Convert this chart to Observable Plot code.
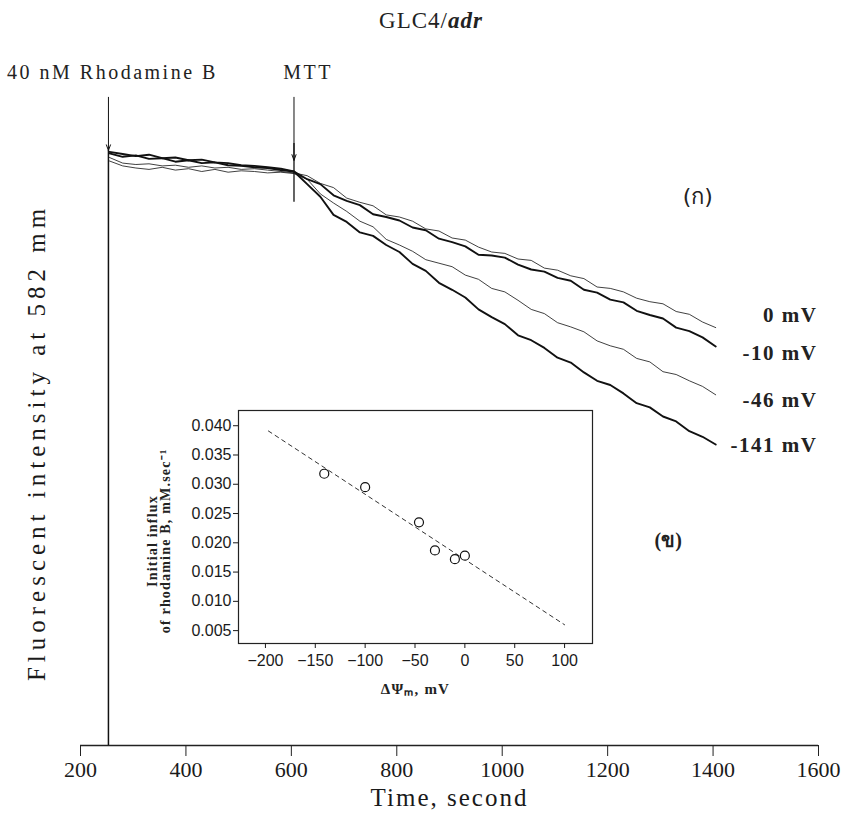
<!DOCTYPE html>
<html><head><meta charset="utf-8">
<script src="https://cdn.jsdelivr.net/npm/d3@7"></script>
<script src="https://cdn.jsdelivr.net/npm/@observablehq/plot@0.6"></script>
<style>
body{margin:0;background:#fff;}
#wrap{position:relative;width:842px;height:822px;overflow:hidden;}
#title{position:absolute;top:8px;left:0;width:862px;text-align:center;font-family:"Liberation Serif",serif;font-size:23px;color:#222;letter-spacing:1px;}
#inset{position:absolute;left:130px;top:400px;}
</style></head><body>
<div id="wrap"><div id="main"></div><div id="inset"></div><div id="title">GLC4/<b><i>adr</i></b></div></div>
<script>
// ---- main chart data ----
const xTicks = [200, 400, 600, 800, 1000, 1200, 1400, 1600];
const rhodT = 253;      // Rhodamine B addition (s)
const mttT = 605;       // MTT addition (s)
const eventLabels = ["40 nM Rhodamine B", "MTT"];
const eventTimes = [253, 605];
const eventHead = [85.0, 83.6];
const plateauT = [255, 280, 305, 330, 355, 380, 405, 430, 455, 480, 505, 530, 555, 580, 605];
const declineT = [630, 655, 680, 705, 730, 755, 780, 805, 830, 855, 880, 905, 930, 955, 980, 1005, 1030, 1055, 1080, 1105, 1130, 1155, 1180, 1205, 1230, 1255, 1280, 1305, 1330, 1355, 1380, 1405];
const seriesNames = ["0 mV", "-10 mV", "-46 mV", "-141 mV"];
const plateau0   = [84.0, 83.2, 83.0, 83.1, 82.8, 82.9, 82.6, 82.8, 82.5, 82.6, 82.3, 82.4, 82.2, 82.0, 81.8];
const plateau10  = [84.6, 84.1, 84.3, 83.8, 83.9, 83.4, 83.6, 83.2, 83.3, 82.9, 82.8, 82.6, 82.5, 82.2, 82.0];
const plateau46  = [83.5, 82.8, 82.5, 82.3, 82.6, 82.2, 82.4, 82.0, 82.3, 81.9, 82.1, 82.0, 81.8, 81.9, 81.7];
const plateau141 = [84.8, 84.5, 84.2, 84.4, 83.9, 84.0, 83.6, 83.7, 83.3, 83.2, 82.9, 82.8, 82.6, 82.4, 82.0];
const decline0   = [81.4, 80.3, 79.7, 78.2, 77.6, 77.1, 75.8, 75.5, 74.9, 73.8, 73.5, 72.5, 72.2, 71.2, 70.5, 70.3, 69.5, 69.3, 68.2, 67.9, 67.1, 66.7, 65.5, 65.3, 64.8, 63.9, 63.4, 63.1, 62.0, 61.6, 60.5, 59.7];
const decline10  = [80.9, 80.2, 78.6, 77.8, 77.2, 75.9, 75.5, 75.0, 74.0, 73.6, 72.4, 71.9, 71.3, 70.1, 70.0, 69.7, 68.7, 68.0, 67.7, 66.8, 66.4, 65.1, 64.7, 63.7, 63.3, 62.1, 61.5, 61.0, 59.7, 59.2, 58.3, 57.0];
const decline46  = [80.9, 78.8, 77.5, 76.3, 74.9, 74.1, 72.3, 71.5, 70.6, 69.4, 68.9, 68.4, 67.2, 66.6, 65.3, 64.8, 63.6, 62.3, 61.7, 60.4, 59.8, 59.1, 57.8, 57.1, 56.6, 55.3, 54.8, 53.4, 53.0, 52.1, 51.3, 50.1];
const decline141 = [80.2, 78.4, 75.8, 74.8, 73.3, 72.8, 71.5, 70.5, 68.8, 67.8, 66.1, 65.1, 64.0, 62.3, 61.2, 60.2, 58.6, 57.9, 56.8, 55.4, 54.7, 53.3, 52.1, 51.5, 50.3, 48.9, 48.3, 47.0, 46.3, 44.9, 44.1, 43.0];
const seriesLabelY = [61.4, 56.0, 49.3, 42.9];
const seriesWidth = [1.0, 1.9, 1.0, 1.9];

// ---- inset data ----
const insetXTicks = [-200, -150, -100, -50, 0, 50, 100];
const insetYTicks = [0.005, 0.010, 0.015, 0.020, 0.025, 0.030, 0.035, 0.040];
const potential = [-141, -100, -46, -30, -10, 0];
const influx = [0.0318, 0.0295, 0.0235, 0.0187, 0.0172, 0.0178];
const fitX = [-197, 100];
const fitY = [0.0391, 0.0060];

// build rows
const plateaus = [plateau0, plateau10, plateau46, plateau141];
const declines = [decline0, decline10, decline46, decline141];
const traces = seriesNames.map((s, i) => [
  ...plateauT.map((t, j) => ({s, t, v: plateaus[i][j]})),
  ...declineT.map((t, j) => ({s, t, v: declines[i][j]}))
]);
const labelRows = seriesNames.map((s, i) => ({s, y: seriesLabelY[i]}));
const eventRows = eventLabels.map((l, i) => ({l, t: eventTimes[i], head: eventHead[i]}));

const serif = "Liberation Serif, Times New Roman, serif";
const main = Plot.plot({
  width: 842, height: 822,
  marginLeft: 80, marginRight: 24, marginTop: 45, marginBottom: 77,
  x: {domain: [200, 1600]},
  y: {domain: [0, 100], axis: null},
  style: {fontFamily: serif, color: "#1a1a1a", background: "white", overflow: "visible"},
  marks: [
    Plot.ruleY([0], {x1: 200, x2: 1600, stroke: "#222", strokeWidth: 1.3}),
    Plot.axisX({ticks: xTicks, tickSize: 11, tickPadding: 5, fontSize: 22, label: null, tickFormat: d => String(d), stroke: "#222"}),
    Plot.text(["Time, second"], {frameAnchor: "bottom", dy: 60, fontSize: 25, fill: "#1a1a1a"}),
    Plot.text(["Fluorescent intensity at 582 mm"], {frameAnchor: "left", textAnchor: "middle", dx: -44, dy: 47, rotate: -90, fontSize: 25, fill: "#1a1a1a"}),
    Plot.ruleX([rhodT], {y1: 0, y2: 85, stroke: "#111", strokeWidth: 1.5}),
    Plot.ruleX([mttT], {y1: 77.6, y2: 86, stroke: "#111", strokeWidth: 1.3}),
    Plot.arrow(eventRows, {x1: "t", x2: "t", y1: 92.6, y2: "head", stroke: "#111", strokeWidth: 1, headLength: 9, headAngle: 40}),
    Plot.text(eventRows.slice(0, 1), {x: "t", y: 96.2, text: "l", fontSize: 20, fill: "#222", dx: 4}),
    Plot.text(eventRows.slice(1), {x: "t", y: 96.2, text: "l", fontSize: 20, fill: "#222", dx: 14}),
    ...traces.map((rows, i) => Plot.line(rows, {x: "t", y: "v", stroke: "#111", strokeWidth: seriesWidth[i], strokeOpacity: i % 2 === 0 ? 0.8 : 1, strokeLinejoin: "round"})),
    Plot.text(labelRows, {x: 1598, y: "y", text: "s", textAnchor: "end", fontSize: 21, fontWeight: "bold", fill: "#222"}),
    Plot.text(["(ก)"], {x: 1371, y: 78.3, fontSize: 22, fontFamily: "DejaVu Sans, Noto Sans, sans-serif", fill: "#222"}),
    Plot.text(["(ข)"], {x: 1315, y: 29.3, fontSize: 20, fontWeight: "bold", fill: "#222"})
  ]
});
document.getElementById("main").appendChild(main);
d3.select(main).selectAll("text").filter(function(){ return this.textContent === "40 nM Rhodamine B" || this.textContent === "MTT"; }).style("letter-spacing", "2.5px");
d3.select(main).selectAll("text").filter(function(){ return /Fluorescent/.test(this.textContent); }).style("letter-spacing", "5px");
d3.select(main).selectAll("text").filter(function(){ return /Time,/.test(this.textContent); }).style("letter-spacing", "2px");
d3.select(main).selectAll("text").filter(function(){ return / mV$/.test(this.textContent); }).style("letter-spacing", "1.5px");

const inset = Plot.plot({
  width: 480, height: 310,
  marginLeft: 108, marginTop: 10, marginRight: 18, marginBottom: 67,
  x: {domain: [-227, 128]},
  y: {domain: [0.0028, 0.0426]},
  style: {fontFamily: "Liberation Sans, Arial, sans-serif", fontSize: 16, color: "#1a1a1a", background: "transparent", overflow: "visible"},
  marks: [
    Plot.frame({stroke: "#222", strokeWidth: 1.2}),
    Plot.axisX({ticks: insetXTicks, tickSize: 5, tickPadding: 6, fontSize: 16, label: null}),
    Plot.axisY({ticks: insetYTicks, tickSize: 5, tickPadding: 2, fontSize: 16, tickFormat: ".3f", label: null}),
    Plot.line(fitX.map((x, i) => ({x, y: fitY[i]})), {x: "x", y: "y", stroke: "#333", strokeWidth: 1, strokeDasharray: "4,4"}),
    Plot.dot(potential.map((x, i) => ({x, y: influx[i]})), {x: "x", y: "y", r: 4.5, stroke: "#111", strokeWidth: 1.2, fill: "white"}),
    Plot.text(["ΔΨₘ, mV"], {frameAnchor: "bottom", dy: 50, fontSize: 15, fontWeight: "bold", fontFamily: serif, fill: "#222"}),
    Plot.text(["Initial influx"], {frameAnchor: "left", textAnchor: "middle", dx: -86, dy: 14, rotate: -90, fontSize: 14, fontWeight: "bold", fontFamily: serif, fill: "#222"}),
    Plot.text(["of rhodamine B, mM.sec⁻¹"], {frameAnchor: "left", textAnchor: "middle", dx: -73, dy: 14, rotate: -90, fontSize: 14, fontWeight: "bold", fontFamily: serif, fill: "#222"})
  ]
});
document.getElementById("inset").appendChild(inset);
d3.select(inset).selectAll("text").filter(function(){ return /influx|rhodamine|ΔΨ/.test(this.textContent); }).style("letter-spacing", "1.2px");
</script>
</body></html>
